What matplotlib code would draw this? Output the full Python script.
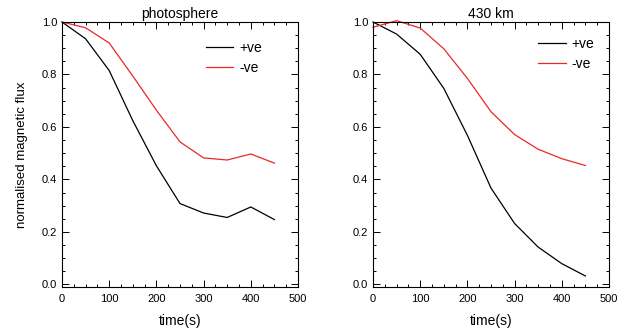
import matplotlib
matplotlib.use("Agg")
import matplotlib.pyplot as plt
from matplotlib.ticker import MultipleLocator

plt.rcParams['font.family'] = ['Liberation Sans', 'DejaVu Sans']

time_s = [0, 50, 100, 150, 200, 250, 300, 350, 400, 450]
photo_pos = [1.0, 0.936, 0.815, 0.624, 0.452, 0.308, 0.272, 0.255, 0.295, 0.247]
photo_neg = [1.0, 0.978, 0.92, 0.794, 0.664, 0.543, 0.482, 0.474, 0.497, 0.462]
km430_pos = [1.0, 0.954, 0.877, 0.747, 0.568, 0.367, 0.232, 0.142, 0.079, 0.032]
km430_neg = [0.98, 1.005, 0.977, 0.898, 0.785, 0.658, 0.571, 0.515, 0.479, 0.453]
titles = ["photosphere", "430 km"]
series_labels = ["+ve", "-ve"]

fig = plt.figure(figsize=(6.2, 3.31), dpi=100)
axes = [fig.add_axes([62/620, 1-287/331, 236/620, 265/331]),
        fig.add_axes([373/620, 1-287/331, 236/620, 265/331])]
data = [(photo_pos, photo_neg), (km430_pos, km430_neg)]
legend_anchor = [(0.87, 0.95), (0.96, 0.965)]

for ax, title, (pos, neg), anc in zip(axes, titles, data, legend_anchor):
    ax.plot(time_s, pos, color='black', lw=0.9, label=series_labels[0], clip_on=False)
    ax.plot(time_s, neg, color='#e8282a', lw=0.9, label=series_labels[1], clip_on=False)
    ax.set_xlim(0, 500)
    ax.set_ylim(-0.01, 1.0)
    ax.xaxis.set_major_locator(MultipleLocator(100))
    ax.xaxis.set_minor_locator(MultipleLocator(25))
    ax.yaxis.set_major_locator(MultipleLocator(0.2))
    ax.yaxis.set_minor_locator(MultipleLocator(0.05))
    ax.yaxis.set_major_formatter(matplotlib.ticker.FormatStrFormatter('%.1f'))
    ax.tick_params(which='both', direction='in', top=True, right=True, labelsize=8, width=0.7)
    ax.tick_params(which='major', length=5)
    ax.tick_params(which='minor', length=2.5)
    ax.tick_params(axis='x', pad=5)
    for s in ax.spines.values():
        s.set_linewidth(0.8)
    ax.set_title(title, fontsize=10, pad=3)
    ax.set_xlabel("time(s)", fontsize=10, labelpad=7)
    ax.legend(loc='upper right', bbox_to_anchor=anc, frameon=False,
              fontsize=10, handlelength=2.0, handletextpad=0.4, labelspacing=0.45,
              borderaxespad=0.0)

axes[0].set_ylabel("normalised magnetic flux", fontsize=9.5, labelpad=10)

fig.savefig("out.png", dpi=100)
